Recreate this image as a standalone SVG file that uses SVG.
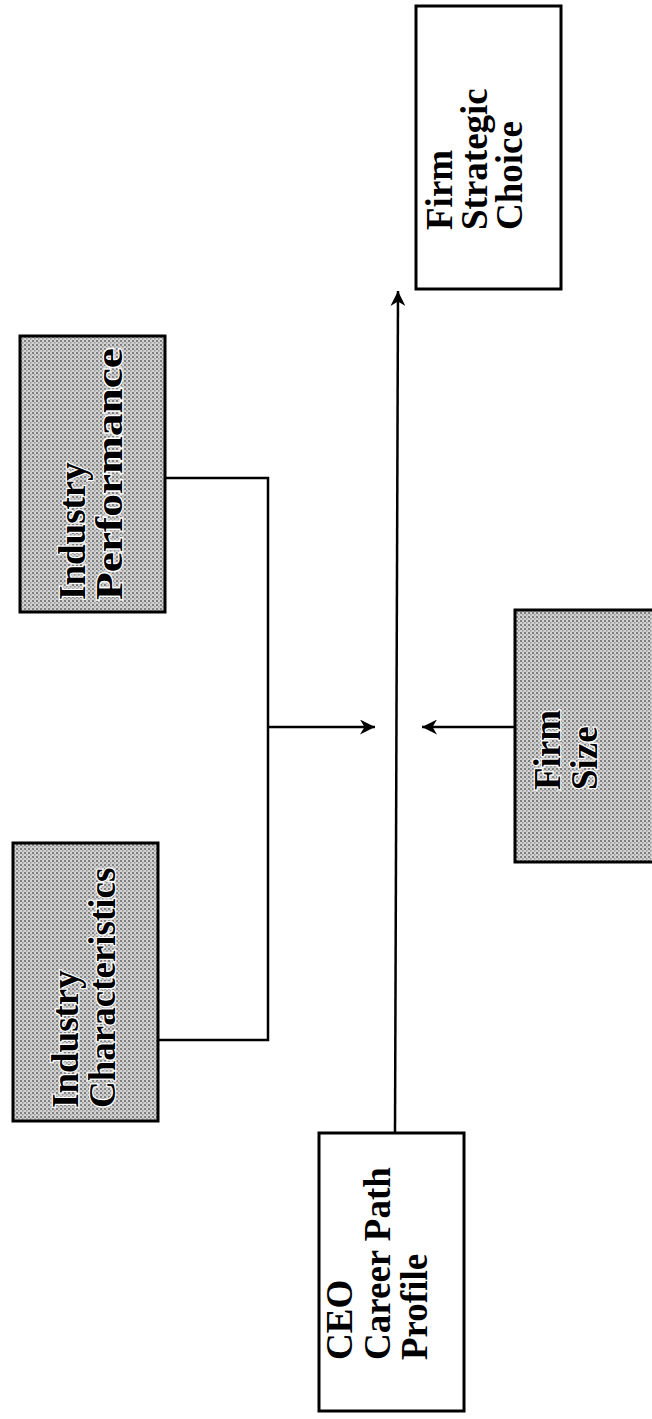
<svg xmlns="http://www.w3.org/2000/svg" width="652" height="1419" viewBox="0 0 652 1419">
<style>
.box{stroke:#000;stroke-width:3}
.plain{fill:#fff}
.shade{fill:url(#dots)}
.lbl{font-family:"Liberation Serif","Times New Roman",serif;font-weight:bold;font-size:37px;fill:#000}
.sh{stroke:#fff;stroke-width:2.5;paint-order:stroke}
.conn{fill:none;stroke:#000;stroke-width:2.5}
</style>
<defs>
<pattern id="dots" width="4" height="4" patternUnits="userSpaceOnUse">
<rect width="4" height="4" fill="#d2d2d2"/>
<rect x="0" y="0" width="2" height="2" fill="#808080"/>
<rect x="2" y="2" width="1.5" height="1.5" fill="#959595"/>
</pattern>
<marker id="ah" viewBox="0 0 10 10" refX="10" refY="5" markerWidth="6" markerHeight="6" orient="auto" markerUnits="strokeWidth">
<path d="M0,0 L10,5 L0,10 L3,5 z" fill="#000"/>
</marker>
</defs>
<g id="connectors">
<line class="conn" x1="395" y1="1133" x2="398" y2="291" marker-end="url(#ah)"/>
<polyline class="conn" points="165,478 268,478 268,1040 158,1040"/>
<line class="conn" x1="268" y1="727" x2="375" y2="727" marker-end="url(#ah)"/>
<line class="conn" x1="515" y1="727" x2="422" y2="727" marker-end="url(#ah)"/>
</g>
<g id="firm-strategic-choice">
<rect class="box plain" x="416" y="6" width="145" height="283"/>
<text class="lbl" transform="rotate(-90)"><tspan x="-230" y="452">Firm</tspan><tspan x="-230" y="487">Strategic</tspan><tspan x="-230" y="522">Choice</tspan></text>
</g>
<g id="industry-performance">
<rect class="box shade" x="20" y="336" width="145" height="276"/>
<text class="lbl sh" transform="rotate(-90)"><tspan x="-600" y="85">Industry</tspan><tspan x="-600" y="122" textLength="252" lengthAdjust="spacingAndGlyphs">Performance</tspan></text>
</g>
<g id="industry-characteristics">
<rect class="box shade" x="13" y="843" width="145" height="278"/>
<text class="lbl sh" transform="rotate(-90)"><tspan x="-1108" y="78">Industry</tspan><tspan x="-1108" y="115">Characteristics</tspan></text>
</g>
<g id="firm-size">
<rect class="box shade" x="515" y="610" width="140" height="252"/>
<text class="lbl sh" transform="rotate(-90)"><tspan x="-790" y="560">Firm</tspan><tspan x="-790" y="597">Size</tspan></text>
</g>
<g id="ceo-career-path-profile">
<rect class="box plain" x="319" y="1133" width="145" height="278"/>
<text class="lbl" transform="rotate(-90)"><tspan x="-1360" y="352">CEO</tspan><tspan x="-1360" y="390">Career Path</tspan><tspan x="-1360" y="427">Profile</tspan></text>
</g>
</svg>
